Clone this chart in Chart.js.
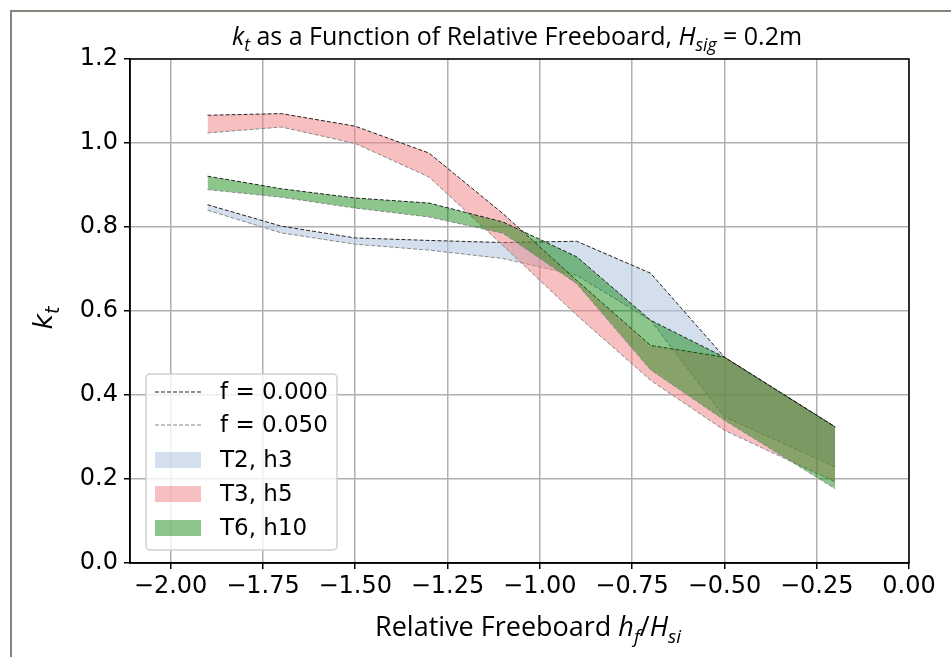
<!DOCTYPE html>
<html>
<head>
<meta charset="utf-8">
<script src="https://cdn.jsdelivr.net/npm/chart.js@4.4.1/dist/chart.umd.min.js"></script>
<style>
  html, body { margin: 0; padding: 0; background: #fff; }
  #wrap { width: 951px; height: 657px; position: relative; }
</style>
</head>
<body>
<div id="wrap"><canvas id="myChart" width="951" height="657"></canvas></div>
<script>
// relative freeboard positions
const freeboard = [-1.9, -1.7, -1.5, -1.3, -1.1, -0.9, -0.7, -0.5, -0.2];

// kt values, f = 0.000 and f = 0.050
const t2_f000 = [0.853, 0.802, 0.774, 0.768, 0.763, 0.766, 0.690, 0.490, 0.324];
const t2_f050 = [0.840, 0.786, 0.759, 0.745, 0.725, 0.685, 0.578, 0.348, 0.229];
const t3_f000 = [1.066, 1.070, 1.040, 0.976, 0.832, 0.673, 0.518, 0.490, 0.324];
const t3_f050 = [1.024, 1.038, 0.999, 0.919, 0.756, 0.590, 0.435, 0.316, 0.193];
const t6_f000 = [0.921, 0.891, 0.869, 0.857, 0.812, 0.729, 0.578, 0.490, 0.324];
const t6_f050 = [0.889, 0.871, 0.845, 0.824, 0.785, 0.665, 0.460, 0.340, 0.177];

const caseLabels = ['T2, h3', 'T3, h5', 'T6, h10'];
const lineLabels = ['f = 0.000', 'f = 0.050'];
const xTicks = [-2.0, -1.75, -1.5, -1.25, -1.0, -0.75, -0.5, -0.25, 0.0];
const yTicks = [0.0, 0.2, 0.4, 0.6, 0.8, 1.0, 1.2];

const fills = ['rgba(176,196,222,0.55)', 'rgba(240,128,128,0.5)', 'rgba(0,128,0,0.45)'];
const ctx = document.getElementById('myChart');

function pts(vals) {
  return freeboard.map((x, i) => ({ x: x, y: vals[i] }));
}

function pair(upper, lower, fill, order) {
  return [
    { label: lineLabels[0], data: pts(upper), borderColor: '#222', borderWidth: 1,
      borderDash: [4, 2], pointRadius: 0, fill: false, order: order, tension: 0 },
    { label: lineLabels[1], data: pts(lower), borderColor: '#888', borderWidth: 1,
      borderDash: [4, 2], pointRadius: 0, fill: '-1', backgroundColor: fill, order: order, tension: 0 }
  ];
}

const datasets = [
  ...pair(t2_f000, t2_f050, fills[0], 3),
  ...pair(t3_f000, t3_f050, fills[1], 2),
  ...pair(t6_f000, t6_f050, fills[2], 1)
];

// draws a run of text pieces (normal / italic / subscript) centred at cx
function richText(c, parts, cx, y, size, family) {
  let w = 0;
  parts.forEach(p => {
    const s = p.sub ? size * 0.7 : size;
    c.font = (p.it ? 'italic ' : '') + s + 'px ' + family;
    p.w = c.measureText(p.t).width;
    w += p.w;
  });
  let x = cx - w / 2;
  parts.forEach(p => {
    const s = p.sub ? size * 0.7 : size;
    c.font = (p.it ? 'italic ' : '') + s + 'px ' + family;
    c.fillText(p.t, x, p.sub ? y + size * 0.25 : y);
    x += p.w;
  });
}

const extras = {
  id: 'extras',
  beforeDraw(chart) {
    const c = chart.ctx;
    c.save();
    c.strokeStyle = '#85857a';
    c.lineWidth = 2;
    c.beginPath();
    c.moveTo(11, 657);
    c.lineTo(11, 11);
    c.lineTo(951, 11);
    c.stroke();
    c.restore();
  },
  afterDraw(chart) {
    const c = chart.ctx;
    const a = chart.chartArea;
    c.save();
    // axes box
    c.strokeStyle = '#000';
    c.lineWidth = 1.5;
    c.strokeRect(a.left, a.top, a.right - a.left, a.bottom - a.top);

    c.fillStyle = '#000';
    c.textAlign = 'left';
    c.textBaseline = 'alphabetic';
    richText(c, [
      { t: 'k', it: true }, { t: 't', it: true, sub: true },
      { t: ' as a Function of Relative Freeboard, ' },
      { t: 'H', it: true }, { t: 'sig', it: true, sub: true },
      { t: ' = 0.2m' }
    ], 517, 45, 25, '"Open Sans"');

    richText(c, [
      { t: 'Relative Freeboard ' },
      { t: 'h', it: true }, { t: 'f', it: true, sub: true },
      { t: '/' },
      { t: 'H', it: true }, { t: 'si', it: true, sub: true }
    ], 528, 636, 27, '"Open Sans"');

    c.save();
    c.translate(52, 318);
    c.rotate(-Math.PI / 2);
    richText(c, [{ t: 'k', it: true }, { t: 't', it: true, sub: true }], 0, 0, 27, '"DejaVu Sans"');
    c.restore();

    // legend
    const lx = 146, ly = 374, lw = 191, lh = 176;
    c.fillStyle = 'rgba(255,255,255,0.8)';
    c.strokeStyle = '#d0d0d0';
    c.lineWidth = 1.5;
    c.beginPath();
    c.roundRect(lx, ly, lw, lh, 4);
    c.fill();
    c.stroke();

    c.font = '23px "DejaVu Sans"';
    c.textBaseline = 'middle';
    const rows = [392, 425, 460, 494, 528];
    const lineCols = ['#222', '#888'];
    for (let i = 0; i < 2; i++) {
      c.strokeStyle = lineCols[i];
      c.lineWidth = 1;
      c.setLineDash([4, 2]);
      c.beginPath();
      c.moveTo(155, rows[i]);
      c.lineTo(201, rows[i]);
      c.stroke();
      c.setLineDash([]);
      c.fillStyle = '#000';
      c.fillText(lineLabels[i], 220, rows[i] + 1);
    }
    for (let i = 0; i < 3; i++) {
      c.fillStyle = fills[i];
      c.fillRect(155, rows[i + 2] - 8, 46, 16);
      c.fillStyle = '#000';
      c.fillText(caseLabels[i], 220, rows[i + 2] + 1);
    }
    c.restore();
  }
};

const tickFont = { family: '"DejaVu Sans"', size: 24 };

new Chart(ctx, {
  type: 'line',
  data: { datasets: datasets },
  options: {
    responsive: false,
    animation: false,
    layout: { padding: { left: 0, top: 59, right: 42, bottom: 0 } },
    plugins: {
      legend: { display: false },
      title: { display: false },
      tooltip: { enabled: false },
      filler: { drawTime: 'beforeDatasetDraw' }
    },
    scales: {
      x: {
        type: 'linear',
        min: -2.11,
        max: 0,
        afterBuildTicks: axis => { axis.ticks = xTicks.map(v => ({ value: v })); },
        afterFit: axis => { axis.height = 94; },
        ticks: {
          font: tickFont, color: '#000', padding: 3, maxRotation: 0, autoSkip: false,
          callback: v => (v < 0 ? '\u2212' : '') + Math.abs(v).toFixed(2)
        },
        grid: { color: '#b0b0b0', lineWidth: 1.5, tickColor: '#000', tickLength: 6, tickWidth: 1.5 },
        border: { color: '#000', width: 1.5 }
      },
      y: {
        type: 'linear',
        min: 0,
        max: 1.2,
        afterBuildTicks: axis => { axis.ticks = yTicks.map(v => ({ value: v })); },
        afterFit: axis => { axis.width = 130; },
        ticks: {
          font: tickFont, color: '#000', padding: 6,
          callback: v => v.toFixed(1)
        },
        grid: { color: '#b0b0b0', lineWidth: 1.5, tickColor: '#000', tickLength: 6, tickWidth: 1.5 },
        border: { color: '#000', width: 1.5 }
      }
    }
  },
  plugins: [extras]
});
</script>
</body>
</html>
